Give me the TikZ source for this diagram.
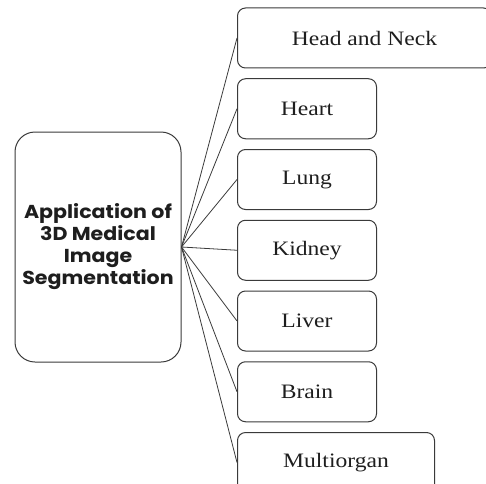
\documentclass[tikz,border=0pt]{standalone}
\usepackage{fontspec}
\newfontfamily\serifo[FakeStretch=1.15]{Liberation Serif}
\newfontfamily\titulo[FakeStretch=1.1]{Poppins}
\usetikzlibrary{positioning}
\definecolor{linea}{HTML}{3A3A3A}
\definecolor{texto}{HTML}{1E1E1E}

\begin{document}
\begin{tikzpicture}[x=1pt,y=1pt,
      raiz/.style={rounded corners=20pt,draw=linea,line width=1pt,text=texto,
                   minimum width=166pt,minimum height=230pt,align=center,
                   font=\titulo\bfseries\fontsize{18.7}{22}\selectfont},
      organo/.style={rounded corners=8pt,draw=linea,line width=1pt,text=texto,
                   minimum width=139pt,minimum height=60pt,inner sep=0pt,
                   font=\serifo\fontsize{20.5}{24}\selectfont},
      rama/.style={line width=0.8pt,linea},
      node distance=9.75pt]
    \useasboundingbox (0,0) rectangle (486,483);
    \node[raiz] (app) at (98,236) {Application of\\3D Medical\\Image\\Segmentation};
    \node[organo,minimum width=254pt,anchor=north west] (cabeza) at (237,475.5) {Head and Neck};
    \node[organo,below=of cabeza.south west,anchor=north west] (corazon) {Heart};
    \node[organo,below=of corazon] (pulmon) {Lung};
    \node[organo,below=of pulmon] (rinon) {Kidney};
    \node[organo,below=of rinon] (higado) {Liver};
    \node[organo,below=of higado] (cerebro) {Brain};
    \node[organo,minimum width=197pt,below=of cerebro.south west,anchor=north west] (multi) {Multiorgan};
    \draw[rama] (app.east) -- (cabeza.west);
    \draw[rama] (app.east) -- (corazon.west);
    \draw[rama] (app.east) -- (pulmon.west);
    \draw[rama] (app.east) -- (rinon.west);
    \draw[rama] (app.east) -- (higado.west);
    \draw[rama] (app.east) -- (cerebro.west);
    \draw[rama] (app.east) -- (multi.west);
  \end{tikzpicture}
\end{document}
